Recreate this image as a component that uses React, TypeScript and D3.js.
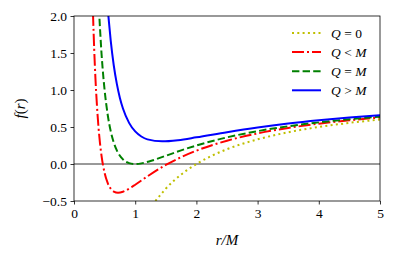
import { useEffect, useRef } from "react";
import * as d3 from "d3";

// f(r) samples, [r/M, f]
const qZero: [number, number][] = [
  [1.33, -0.5], [1.4, -0.43], [1.5, -0.333], [1.75, -0.143], [2, 0], [2.25, 0.111],
  [2.5, 0.2], [3, 0.333], [3.5, 0.429], [4, 0.5], [4.5, 0.556], [5, 0.6],
];
const qLess: [number, number][] = [
  [0.3, 2.3], [0.3115, 2.0], [0.33, 1.551], [0.35, 1.163], [0.375, 0.79], [0.4, 0.5],
  [0.425, 0.28], [0.45, 0.111], [0.5, -0.12], [0.55, -0.256], [0.6, -0.333], [0.65, -0.373],
  [0.72, -0.389], [0.8, -0.375], [0.9, -0.333], [1.0, -0.28], [1.2, -0.167], [1.5, -0.013],
  [1.75, 0.092], [2, 0.18], [2.5, 0.315], [3, 0.413], [3.5, 0.487], [4, 0.545],
  [4.5, 0.591], [5, 0.629],
];
const qEqual: [number, number][] = [
  [0.4, 2.25], [0.414, 2.0], [0.43, 1.76], [0.45, 1.49], [0.475, 1.22], [0.5, 1.0],
  [0.55, 0.669], [0.6, 0.444], [0.65, 0.29], [0.7, 0.184], [0.8, 0.0625], [0.9, 0.0123],
  [1.0, 0], [1.1, 0.0083], [1.25, 0.04], [1.5, 0.111], [1.75, 0.184], [2, 0.25],
  [2.5, 0.36], [3, 0.444], [3.5, 0.51], [4, 0.5625], [4.5, 0.605], [5, 0.64],
];
const qGreater: [number, number][] = [
  [0.54, 2.2], [0.562, 2.0], [0.6, 1.667], [0.65, 1.331], [0.7, 1.082], [0.75, 0.893],
  [0.8, 0.75], [0.9, 0.556], [1.0, 0.44], [1.1, 0.372], [1.2, 0.333], [1.44, 0.306],
  [1.7, 0.322], [2, 0.36], [2.5, 0.43], [3, 0.493], [3.5, 0.546], [4, 0.59],
  [4.5, 0.627], [5, 0.658],
];

const seriesNames = ["Q = 0", "Q < M", "Q = M", "Q > M"];
const xTicks = [0, 1, 2, 3, 4, 5];
const yTicks = [-0.5, 0, 0.5, 1.0, 1.5, 2.0];

const W = 396;
const H = 259;
const margin = { top: 16, right: 16, bottom: 58, left: 74 };
const FONT = "'Liberation Serif', 'DejaVu Serif', serif";

export default function App() {
  const ref = useRef<SVGSVGElement>(null);

  useEffect(() => {
    const svg = d3.select(ref.current);
    svg.selectAll("*").remove();
    const iw = W - margin.left - margin.right;
    const ih = H - margin.top - margin.bottom;

    const x = d3.scaleLinear().domain([0, 5]).range([0, iw]);
    const y = d3.scaleLinear().domain([-0.5, 2.0]).range([ih, 0]);

    const g = svg.append("g").attr("transform", `translate(${margin.left},${margin.top})`);

    g.append("defs")
      .append("clipPath")
      .attr("id", "plotclip")
      .append("rect")
      .attr("width", iw)
      .attr("height", ih);

    // zero line
    g.append("line")
      .attr("x1", 0)
      .attr("x2", iw)
      .attr("y1", y(0))
      .attr("y2", y(0))
      .attr("stroke", "#000")
      .attr("stroke-width", 0.8);

    const line = d3
      .line<[number, number]>()
      .x((d) => x(d[0]))
      .y((d) => y(d[1]))
      .curve(d3.curveMonotoneX);

    const styles = [
      { data: qZero, color: "#bfbf00", dash: "2,3.3" },
      { data: qLess, color: "#ff0000", dash: "12,3,2,3" },
      { data: qEqual, color: "#008000", dash: "7.4,3.2" },
      { data: qGreater, color: "#0000ff", dash: null },
    ];

    const lines = g.append("g").attr("clip-path", "url(#plotclip)");
    styles.forEach((s) => {
      lines
        .append("path")
        .attr("d", line(s.data))
        .attr("fill", "none")
        .attr("stroke", s.color)
        .attr("stroke-width", 2)
        .attr("stroke-dasharray", s.dash);
    });

    // frame
    g.append("rect")
      .attr("width", iw)
      .attr("height", ih)
      .attr("fill", "none")
      .attr("stroke", "#000")
      .attr("stroke-width", 0.8);

    const xAxis = g
      .append("g")
      .attr("transform", `translate(0,${ih})`)
      .call(d3.axisBottom(x).tickValues(xTicks).tickFormat(d3.format("d")).tickSize(3.5).tickPadding(3.5));
    const yAxis = g
      .append("g")
      .call(
        d3
          .axisLeft(y)
          .tickValues(yTicks)
          .tickFormat((d) => d3.format(".1f")(d as number).replace("-", "\u2212"))
          .tickSize(3.5)
          .tickPadding(3.5)
      );
    [xAxis, yAxis].forEach((a) => {
      a.attr("font-family", FONT).attr("font-size", 13.5);
      a.select(".domain").remove();
      a.selectAll("line").attr("stroke", "#000").attr("stroke-width", 0.8);
      a.selectAll("text").attr("fill", "#000");
    });

    // axis labels
    svg
      .append("text")
      .attr("x", margin.left + iw / 2)
      .attr("y", 245)
      .attr("text-anchor", "middle")
      .attr("font-family", FONT)
      .attr("font-size", 15)
      .attr("font-style", "italic")
      .text("r/M");
    svg
      .append("text")
      .attr("transform", `translate(25,${margin.top + ih / 2}) rotate(-90)`)
      .attr("text-anchor", "middle")
      .attr("font-family", FONT)
      .attr("font-size", 15)
      .call((t) => {
        t.append("tspan").attr("font-style", "italic").text("f");
        t.append("tspan").text("(");
        t.append("tspan").attr("font-style", "italic").text("r");
        t.append("tspan").text(")");
      });

    // legend
    const legend = svg.append("g").attr("transform", "translate(292,33)");
    styles.forEach((s, i) => {
      const row = legend.append("g").attr("transform", `translate(0,${i * 19.1})`);
      row
        .append("line")
        .attr("x1", 0)
        .attr("x2", 29)
        .attr("stroke", s.color)
        .attr("stroke-width", 2)
        .attr("stroke-dasharray", s.dash);
      const [a, op, b] = seriesNames[i].split(" ");
      const t = row
        .append("text")
        .attr("x", 39)
        .attr("y", 4.5)
        .attr("font-family", FONT)
        .attr("font-size", 13.5);
      t.append("tspan").attr("font-style", "italic").text(a);
      t.append("tspan").text(` ${op} `);
      t.append("tspan").attr("font-style", b === "0" ? "normal" : "italic").text(b);
    });
  }, []);

  return (
    <svg
      ref={ref}
      width={W}
      height={H}
      style={{ position: "absolute", left: 0, top: 0, background: "#fff" }}
    />
  );
}
